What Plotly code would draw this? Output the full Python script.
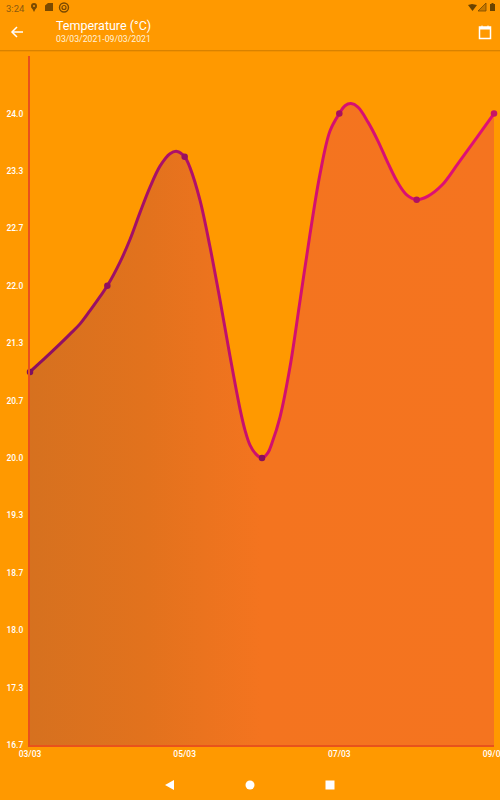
import plotly.graph_objects as go

# Recorded values (one per day)
days = [0, 1, 2, 3, 4, 5, 6]
temps = [21.0, 22.0, 23.5, 20.0, 24.0, 23.0, 24.0]
# The smooth curve, in the same day / degree units
curve_days = [0, 0.129, 0.259, 0.388, 0.517, 0.647, 0.776, 0.905, 1,
              1.164, 1.293, 1.422, 1.552, 1.681, 1.810, 1.901, 2,
              2.069, 2.198, 2.328, 2.457, 2.586, 2.716, 2.780, 2.845, 2.922, 3,
              3.078, 3.129, 3.233, 3.362, 3.491, 3.621, 3.750, 3.879, 4,
              4.073, 4.151, 4.241, 4.371, 4.500, 4.629, 4.759, 4.875, 5,
              5.147, 5.328, 5.534, 5.754, 6]
curve_temps = [21.0, 21.108, 21.215, 21.325, 21.439, 21.558, 21.712, 21.875, 22.0,
               22.275, 22.537, 22.850, 23.146, 23.390, 23.535, 23.561, 23.5,
               23.373, 22.995, 22.450, 21.834, 21.184, 20.568, 20.324, 20.150, 20.045, 20.0,
               20.063, 20.173, 20.475, 21.056, 21.822, 22.601, 23.297, 23.797, 24.0,
               24.091, 24.116, 24.075, 23.901, 23.681, 23.425, 23.193, 23.053, 23.0,
               23.042, 23.170, 23.419, 23.692, 24.0]
y_ticks = [24.0, 70 / 3, 68 / 3, 22.0, 64 / 3, 62 / 3, 20.0, 58 / 3, 56 / 3, 18.0, 52 / 3, 50 / 3]
y_labels = ["24.0", "23.3", "22.7", "22.0", "21.3", "20.7", "20.0", "19.3", "18.7", "18.0", "17.3", "16.7"]
x_tick_days = [0, 2, 4, 6]
x_labels = ["03/03", "05/03", "07/03", "09/03"]
title_text = "Temperature (°C)"
subtitle_text = "03/03/2021-09/03/2021"
status_time = "3:24"
marker_colors = ["#7E1060", "#8E1060", "#981060", "#8A0F5C", "#A8105F", "#B01262", "#C81565"]

W, H = 500, 800
BG = "#FF9900"
FONT = "Roboto"
AXIS = "#E8521C"


def px(x):
    return x / W


def py(y):
    return 1 - y / H


def path(points, close=True):
    s = "M" + " L".join(f"{px(a):.5f},{py(b):.5f}" for a, b in points)
    return s + (" Z" if close else "")


def shape(points, fill, line=None, width=0, close=True):
    return dict(type="path", xref="paper", yref="paper", path=path(points, close),
                fillcolor=fill if close else None,
                line=dict(color=line or fill, width=width), layer="above")


def rect(x0, y0, x1, y1, fill, line=None, width=0, kind="rect"):
    return dict(type=kind, xref="paper", yref="paper", x0=px(x0), x1=px(x1), y0=py(y0), y1=py(y1),
                fillcolor=fill, line=dict(color=line or fill, width=width), layer="above")


DARK = "#7A4A00"
shapes = [
    # header shadow
    rect(0, 50, 500, 51, "#D98200"),
    rect(0, 51, 500, 52, "#F29100"),
    # back arrow
    shape([(12, 32), (23, 32)], None, "white", 1.5, False),
    shape([(17, 27), (12, 32), (17, 37)], None, "white", 1.5, False),
    # calendar
    rect(479.5, 27, 490.5, 38.5, "rgba(0,0,0,0)", "white", 1.5),
    rect(479.5, 27, 490.5, 29.5, "white"),
    rect(481.5, 25.5, 482.5, 27.5, "white"),
    rect(487.5, 25.5, 488.5, 27.5, "white"),
    # status icons left
    rect(31, 3, 37, 9, DARK, kind="circle"),
    shape([(31.5, 7), (34, 12), (36.5, 7)], DARK),
    rect(33, 5, 35, 7, BG, kind="circle"),
    shape([(45, 5.5), (48, 3), (53, 3), (53, 11), (45, 11)], DARK),
    rect(59.5, 3, 68.5, 12, "rgba(0,0,0,0)", DARK, 1.4, kind="circle"),
    rect(62, 5.5, 66, 9.5, "rgba(0,0,0,0)", DARK, 1.2, kind="circle"),
    # status icons right
    shape([(468, 5), (472, 4), (477, 5), (472.5, 11)], "#6B4300"),
    shape([(478, 11), (486, 3), (486, 11)], "#C67800", "#7A4A00", 0.8),
    rect(490, 4, 495, 11, "#6B4300"),
    rect(491.5, 3, 493.5, 4, "#6B4300"),
    # nav bar
    shape([(165, 785), (174, 780), (174, 790)], "white"),
    rect(245.5, 780.5, 254.5, 789.5, "white", kind="circle"),
    rect(325.5, 780.5, 334.5, 789.5, "white"),
]

annotations = [
    dict(text=title_text, x=px(54), y=py(25.5), font=dict(size=12.5, color="white", family=FONT)),
    dict(text=subtitle_text, x=px(54), y=py(39.5), font=dict(size=8.7, color="#FFF3DC", family=FONT)),
    dict(text=status_time, x=px(3.5), y=py(8), font=dict(size=9.5, color="#8A5A10", family=FONT)),
]
for a in annotations:
    a.update(xref="paper", yref="paper", xanchor="left", yanchor="middle", showarrow=False)

curve = go.Scatter(
    x=curve_days, y=curve_temps, mode="lines", cliponaxis=False,
    line=dict(shape="spline", smoothing=1.0, color="#C8106A", width=3),
    fill="tozeroy",
    fillgradient=dict(
        type="horizontal",
        colorscale=[[0, "#D6711F"], [0.25, "#E2721D"], [0.5, "#F4741F"], [1, "#F5741F"]],
    ),
    hoverinfo="skip",
)
points = go.Scatter(
    x=days, y=temps, mode="markers", cliponaxis=False,
    marker=dict(size=6.5, color=marker_colors, line=dict(width=0)),
    hoverinfo="skip",
)

fig = go.Figure([curve, points])
fig.update_layout(
    template="none",
    width=W, height=H, autosize=False,
    margin=dict(l=0, r=0, t=0, b=0, pad=0),
    paper_bgcolor=BG, plot_bgcolor=BG,
    showlegend=False, shapes=shapes, annotations=annotations,
    font=dict(family=FONT, color="white"),
    xaxis=dict(
        automargin=False, ticklabeloverflow="allow",
        domain=[px(30), px(494)], range=[0, 6],
        tickvals=x_tick_days, ticktext=x_labels, showgrid=False, zeroline=False,
        showline=True, linecolor=AXIS, linewidth=2, ticks="", ticklen=0,
        tickfont=dict(size=8.5, color="white", family=FONT + " Medium, " + FONT), tickangle=0,
    ),
    yaxis=dict(
        automargin=False,
        domain=[py(745), py(56)], range=[50 / 3, 50 / 3 + (745 - 56) / 86.1],
        tickvals=y_ticks, ticktext=y_labels, showgrid=False, zeroline=False,
        showline=True, linecolor=AXIS, linewidth=2, ticks="outside", ticklen=3, tickcolor="rgba(0,0,0,0)",
        tickfont=dict(size=8.5, color="white", family=FONT + " Medium, " + FONT),
    ),
)

post = """
document.body.style.margin = '0';
document.documentElement.style.overflow = 'hidden';
var gd = document.getElementsByClassName('plotly-graph-div')[0];
var line = gd.querySelector('.scatterlayer .js-line');
if (line) {
  var svg = gd.querySelector('svg.main-svg');
  var NS = 'http://www.w3.org/2000/svg';
  var g = document.createElementNS(NS, 'linearGradient');
  g.setAttribute('id', 'lineGrad');
  g.setAttribute('gradientUnits', 'userSpaceOnUse');
  g.setAttribute('x1', '0'); g.setAttribute('x2', '464');
  g.setAttribute('y1', '0'); g.setAttribute('y2', '0');
  [[0, '#8A1062'], [0.35, '#B0106A'], [0.5, '#D0106E'], [1, '#E01076']].forEach(function (s) {
    var st = document.createElementNS(NS, 'stop');
    st.setAttribute('offset', s[0]); st.setAttribute('stop-color', s[1]);
    g.appendChild(st);
  });
  svg.querySelector('defs').appendChild(g);
  line.style.stroke = 'url(#lineGrad)';
}
"""
fig.write_html("out.html", post_script=post, config=dict(displayModeBar=False))
